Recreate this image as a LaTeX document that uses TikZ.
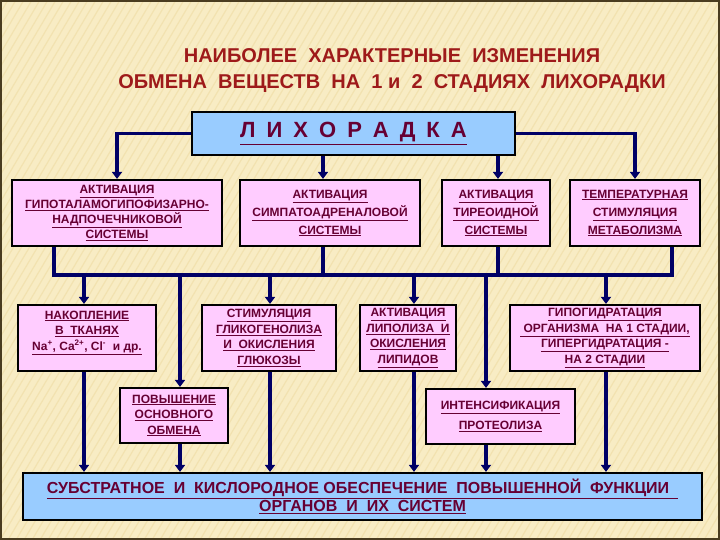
\documentclass[tikz,border=0pt]{standalone}
\usepackage{fontspec}
\setmainfont{Liberation Sans}
\usetikzlibrary{arrows.meta}
\definecolor{bgc}{HTML}{F8ECC4}
\definecolor{stripec}{HTML}{F2E2B0}
\definecolor{framec}{HTML}{4A3C20}
\definecolor{titlec}{HTML}{9E1A1A}
\definecolor{txtc}{HTML}{660033}
\definecolor{pinkc}{HTML}{FFCCFF}
\definecolor{bluec}{HTML}{99CCFF}
\definecolor{navyc}{HTML}{000066}
\newcommand\uln[1]{\underline{#1}}
\newcommand\lsp{\hspace{11pt}}
\begin{document}
\begin{tikzpicture}[x=1pt,y=1pt,
  box/.style={draw=black, line width=2.2pt, fill=pinkc, align=center, inner sep=0pt,
    text=txtc, font=\bfseries\fontsize{12}{15.5}\selectfont},
  bluebox/.style={box, fill=bluec},
  conn/.style={draw=navyc, line width=3.6pt},
  arr/.style={conn, -{Triangle[length=7pt,width=10pt]}},
  stripe/.style={draw=stripec, line width=1.2pt}
]
\useasboundingbox (0,0) rectangle (720,-540);
\fill[bgc] (0,0) rectangle (720,-540);
\begin{scope}
\clip (0,0) rectangle (720,-540);
\foreach \i in {-360,-352,...,720} \draw[stripe] (\i,-540) -- ++(320,540);
\end{scope}
\draw[framec, line width=2pt] (1,-1) rectangle (719,-539);

% title
\node[text=titlec, font=\bfseries\fontsize{20}{26}\selectfont, align=center] (title) at (392,-71)
  {НАИБОЛЕЕ \ ХАРАКТЕРНЫЕ \ ИЗМЕНЕНИЯ\\ ОБМЕНА \ ВЕЩЕСТВ \ НА \ 1 и \ 2 \ СТАДИЯХ \ ЛИХОРАДКИ};

% main box
\node[bluebox, minimum width=323pt, minimum height=43pt, font=\bfseries\fontsize{22}{24}\selectfont] (L) at (353.5,-133.5)
  {\uln{Л\lsp И\lsp Х\lsp О\lsp Р\lsp А\lsp Д\lsp К\lsp А}};

% row 1
\node[box, minimum width=210pt, minimum height=66pt, font=\bfseries\fontsize{12}{15}\selectfont] (A) at (117,-213)
  {\uln{АКТИВАЦИЯ}\\\uln{ГИПОТАЛАМОГИПОФИЗАРНО-}\\\uln{НАДПОЧЕЧНИКОВОЙ}\\\uln{СИСТЕМЫ}};
\node[box, minimum width=180pt, minimum height=66pt, font=\bfseries\fontsize{12}{18}\selectfont] (B) at (330,-213)
  {\uln{АКТИВАЦИЯ}\\\uln{СИМПАТОАДРЕНАЛОВОЙ}\\\uln{СИСТЕМЫ}};
\node[box, minimum width=108pt, minimum height=66pt, font=\bfseries\fontsize{12}{18}\selectfont] (C) at (496,-213)
  {\uln{АКТИВАЦИЯ}\\\uln{ТИРЕОИДНОЙ}\\\uln{СИСТЕМЫ}};
\node[box, minimum width=130pt, minimum height=66pt, font=\bfseries\fontsize{12}{18}\selectfont] (D) at (635,-213)
  {\uln{ТЕМПЕРАТУРНАЯ}\\\uln{СТИМУЛЯЦИЯ}\\\uln{МЕТАБОЛИЗМА}};

% row 2
\node[box, minimum width=138pt, minimum height=66pt] (E) at (87,-338)
  {\uln{НАКОПЛЕНИЕ}\\\uln{В \ ТКАНЯХ}\\\uln{Na\textsuperscript{+}, Ca\textsuperscript{2+}, Cl\textsuperscript{-} \ и др.}\\[-5pt]\strut};
\node[box, minimum width=134pt, minimum height=66pt] (F) at (269,-338)
  {\uln{СТИМУЛЯЦИЯ}\\\uln{ГЛИКОГЕНОЛИЗА}\\\uln{И \ ОКИСЛЕНИЯ}\\\uln{ГЛЮКОЗЫ}};
\node[box, minimum width=96pt, minimum height=66pt] (H) at (408,-338)
  {\uln{АКТИВАЦИЯ}\\\uln{ЛИПОЛИЗА \ И}\\\uln{ОКИСЛЕНИЯ}\\\uln{ЛИПИДОВ}};
\node[box, minimum width=190pt, minimum height=66pt] (I) at (605,-338)
  {\uln{ГИПОГИДРАТАЦИЯ}\\\uln{ ОРГАНИЗМА \ НА 1 СТАДИИ,}\\\uln{ГИПЕРГИДРАТАЦИЯ -}\\\uln{НА 2 СТАДИИ}};

% row 3
\node[box, minimum width=108pt, minimum height=55pt] (G) at (174,-415.5)
  {\uln{ПОВЫШЕНИЕ}\\\uln{ОСНОВНОГО}\\\uln{ОБМЕНА}};
\node[box, minimum width=149pt, minimum height=55pt, font=\bfseries\fontsize{12}{20}\selectfont] (J) at (500.5,-416.5)
  {\uln{ИНТЕНСИФИКАЦИЯ}\\\uln{ПРОТЕОЛИЗА}};

% bottom
\node[bluebox, minimum width=679pt, minimum height=47pt, font=\bfseries\fontsize{16}{18}\selectfont] (K) at (362.5,-496.5)
  {\uln{СУБСТРАТНОЕ \ И \ КИСЛОРОДНОЕ ОБЕСПЕЧЕНИЕ \ ПОВЫШЕННОЙ \ ФУНКЦИИ \ }\\\uln{ОРГАНОВ \ И \ ИХ \ СИСТЕМ}};

% connectors from L
\draw[arr] (L.west) -| (A.north);
\draw[arr] (L.east) -| (D.north);
\draw[arr] (L.south -| 323,0) -- (B.north -| 323,0);
\draw[arr] (L.south -| 498,0) -- (C.north -| 498,0);

% bus
\coordinate (busL) at (54,-275);
\coordinate (busR) at (672,-275);
\draw[conn] (A.south -| busL) -- (busL) -- (busR) -- (D.south -| busR);
\draw[conn] (B.south -| 323,0) -- (323,-275);
\draw[conn] (C.south -| 498,0) -- (498,-275);

% bus to row 2/3
\draw[arr] (84,-275) -- (E.north -| 84,0);
\draw[arr] (180,-275) -- (G.north -| 180,0);
\draw[arr] (270,-275) -- (F.north -| 270,0);
\draw[arr] (414,-275) -- (H.north -| 414,0);
\draw[arr] (486,-275) -- (J.north -| 486,0);
\draw[arr] (606,-275) -- (I.north -| 606,0);

% to bottom
\draw[arr] (E.south -| 84,0) -- (K.north -| 84,0);
\draw[arr] (G.south -| 180,0) -- (K.north -| 180,0);
\draw[arr] (F.south -| 270,0) -- (K.north -| 270,0);
\draw[arr] (H.south -| 414,0) -- (K.north -| 414,0);
\draw[arr] (J.south -| 486,0) -- (K.north -| 486,0);
\draw[arr] (I.south -| 606,0) -- (K.north -| 606,0);
\end{tikzpicture}
\end{document}
